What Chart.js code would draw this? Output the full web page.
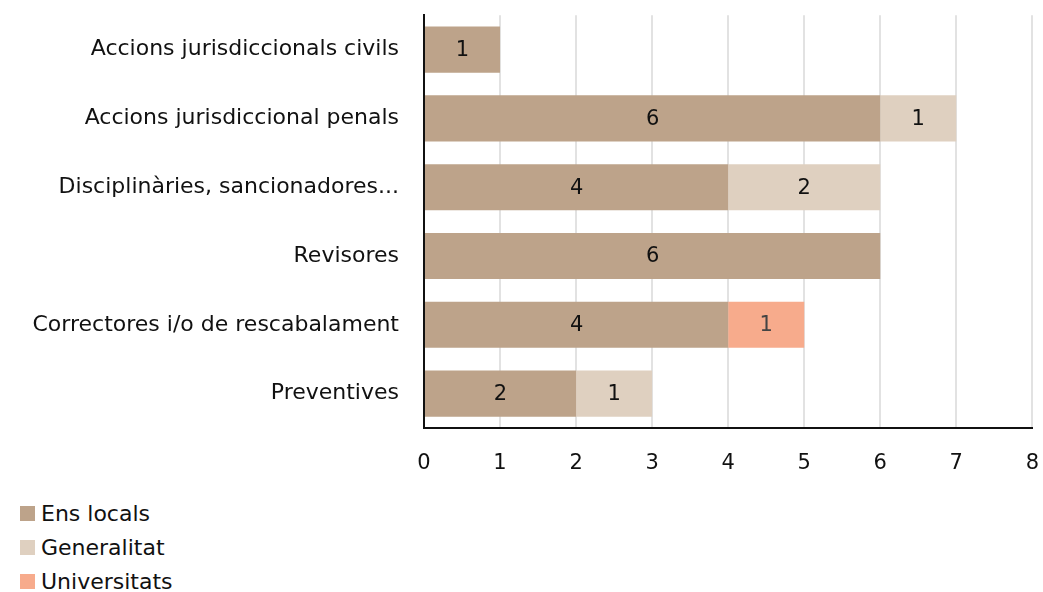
<!DOCTYPE html>
<html>
<head>
<meta charset="utf-8">
<script src="https://cdn.jsdelivr.net/npm/chart.js@4"></script>
<style>
  html, body { margin:0; padding:0; background:#fff; }
  body { position:relative; width:1043px; height:592px; overflow:hidden; font-family:'DejaVu Sans', sans-serif; }
  /* canvas shifted so the plot area lands where the reference has it */
  #wrap { position:absolute; left:0; top:-23px; width:1062px; height:513px; }
  #legend { position:absolute; left:20px; top:496px; }
  .lg-item { display:flex; align-items:center; height:34px; font-size:22px; color:#111; }
  .lg-box { width:15px; height:15px; margin-right:6px; }
</style>
</head>
<body>
<div id="wrap"><canvas id="chart"></canvas></div>
<div id="legend"></div>
<script>
// ── Data ─────────────────────────────────────────────────────
const categories   = ['Accions jurisdiccionals civils', 'Accions jurisdiccional penals', 'Disciplinàries, sancionadores...',
                      'Revisores', 'Correctores i/o de rescabalament', 'Preventives'];
const seriesNames  = ['Ens locals', 'Generalitat', 'Universitats'];
const ensLocals    = [1, 6, 4, 6, 4, 2];
const generalitat  = [0, 1, 2, 0, 0, 1];
const universitats = [0, 0, 0, 0, 1, 0];
const xTicks       = [0, 1, 2, 3, 4, 5, 6, 7, 8];

const C = { ens:'#bda38a', gen:'#dfd0c0', uni:'#f7ab8c', grid:'#e2e2e2', axis:'#111' };
const FONT = "'DejaVu Sans', sans-serif";

// value labels in the middle of each segment
const barLabels = {
  id:'barLabels',
  afterDatasetsDraw(chart) {
    const ctx = chart.ctx;
    ctx.save();
    ctx.font = '21px ' + FONT;
    ctx.textAlign = 'center';
    ctx.textBaseline = 'middle';
    chart.data.datasets.forEach((ds, i) => {
      chart.getDatasetMeta(i).data.forEach((bar, j) => {
        const v = ds.data[j];
        if (!v) return;
        ctx.fillStyle = ds.labelColor;
        ctx.fillText(String(v), (bar.x + bar.base) / 2, bar.y + 1);
      });
    });
    ctx.restore();
  }
};

const mk = (label, data, color, labelColor) => ({
  label, data, backgroundColor:color, borderWidth:0, labelColor,
  barPercentage:0.67, categoryPercentage:1
});

new Chart(document.getElementById('chart'), {
  type:'bar',
  data:{ labels:categories, datasets:[
    mk(seriesNames[0], ensLocals, C.ens, '#111'),
    mk(seriesNames[1], generalitat, C.gen, '#111'),
    mk(seriesNames[2], universitats, C.uni, '#444'),
  ]},
  options:{
    indexAxis:'y', responsive:true, maintainAspectRatio:false, animation:false,
    layout:{ padding:0 },
    plugins:{ legend:{ display:false }, tooltip:{ enabled:false } },
    scales:{
      x:{ stacked:true, min:0, max:8,
          afterBuildTicks:s => { s.ticks = xTicks.map(v => ({ value:v })); },
          afterFit:s => { s.height = 62; },
          grid:{ color:C.grid, lineWidth:2, drawTicks:false },
          border:{ color:C.axis, width:2 },
          ticks:{ color:'#111', font:{ family:FONT, size:21 }, padding:23 } },
      y:{ stacked:true,
          afterFit:s => { s.width = 424; },
          grid:{ display:false, drawTicks:false },
          border:{ color:C.axis, width:2 },
          ticks:{ color:'#111', font:{ family:FONT, size:22 }, padding:25 } }
    }
  },
  plugins:[barLabels]
});

// ── Legend (vertical, bottom left) ───────────────────────────
const cols = [C.ens, C.gen, C.uni];
document.getElementById('legend').innerHTML = seriesNames.map((n, i) =>
  `<div class="lg-item"><span class="lg-box" style="background:${cols[i]}"></span>${n}</div>`).join('');
</script>
</body>
</html>
